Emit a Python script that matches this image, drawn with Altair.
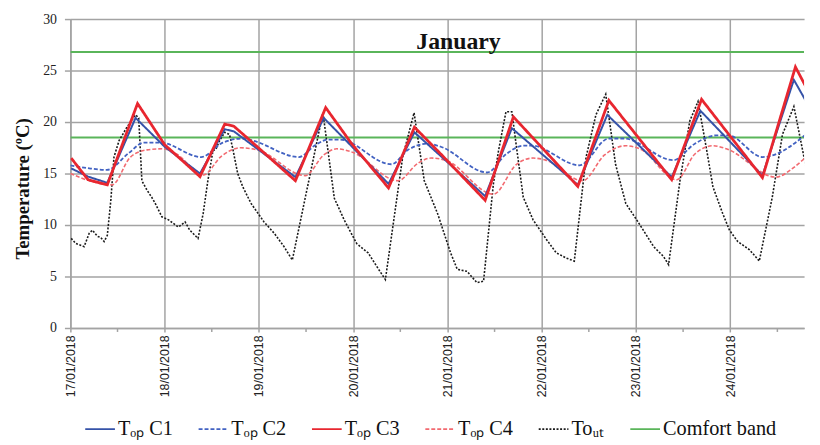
import altair as alt
import pandas as pd

# ---------------- data (hours since 17/01/2018 00:00, °C) ----------------
SERIES = ["Tₒₚ C1", "Tₒₚ C2", "Tₒₚ C3", "Tₒₚ C4", "Toᵤₜ", "Comfort band"]
COLORS = ["#3552a8", "#4262c2", "#e8262f", "#f26a70", "#1a1a1a", "#5ab55a"]
DASHES = [[1, 0], [4, 2], [1, 0], [4, 2], [2, 1.6], [1, 0]]

c1_h = [0.2, 4.5, 9.4, 16.6, 24, 33.0, 39.3, 41.6, 57.3, 64.5, 81.0, 87.6, 105.6, 112.4,
        129.2, 136.7, 153.1, 160.4, 176.2, 184.2, 188.8]
c1_v = [15.5, 14.7, 14.1, 20.4, 17.6, 15.0, 19.3, 19.1, 14.65, 20.4, 14.0, 19.0, 12.8, 19.4,
        13.9, 20.7, 14.65, 21.1, 14.8, 24.1, 21.0]

c2_h = [0, 4.8, 9.3, 14.9, 18.7, 22.9, 33.3, 38.8, 43.9, 46.4, 58.2, 62.5, 65.7, 68.5, 81.7,
        86, 90.9, 94.3, 106.1, 111, 115.3, 117.5, 129.6, 137.1, 140.9, 153.5, 159, 164.4,
        167.5, 176.2, 188.8]
c2_v = [15.8, 15.5, 15.35, 17.0, 18.0, 18.0, 16.6, 18.0, 18.4, 18.2, 16.6, 17.8, 18.3, 18.3,
        15.9, 17.3, 17.9, 17.6, 15.1, 16.9, 17.7, 17.7, 15.8, 18.4, 18.4, 16.3, 17.9, 18.7,
        18.7, 16.6, 19.3]

c3_h = [0.2, 4.5, 9.4, 17.1, 24, 33.0, 39.3, 41.6, 46.4, 57.3, 65.0, 71.6, 81.0, 87.6, 94.3,
        105.6, 112.8, 129.2, 137.1, 153.1, 160.7, 176.2, 184.6, 188.8]
c3_v = [16.5, 14.4, 13.9, 21.8, 17.8, 14.7, 19.8, 19.6, 18.0, 14.3, 21.4, 17.9, 13.6, 19.5,
        16.9, 12.4, 20.5, 13.75, 22.1, 14.4, 22.2, 14.6, 25.35, 22.3]

c4_h = [0, 4.8, 10.6, 15.3, 19.5, 23.5, 27, 33.8, 38.5, 43.4, 47.6, 59.8, 64.5, 67.8, 71.6,
        83.4, 88.5, 91.8, 95.5, 107.7, 113.6, 117.8, 121, 130.4, 136, 141.4, 145, 154.4, 159,
        163.6, 167, 179.6, 184.2, 188.8]
c4_v = [15.0, 14.3, 13.9, 16.6, 17.3, 17.4, 16.9, 14.85, 16.7, 17.5, 17.3, 14.8, 16.8, 17.4,
        17.1, 14.3, 16.0, 16.5, 16.3, 13.0, 15.9, 16.5, 16.3, 14.3, 16.8, 17.7, 17.4, 14.4,
        16.9, 17.7, 17.4, 14.65, 15.6, 17.2]

tout_h = [0.2, 1.4, 3.5, 4.8, 5.6, 6.9, 7.7, 8.6, 9.4, 10.3, 11.1, 12.4, 14.4, 16.6, 17.4,
          18.2, 19.5, 20.7, 21.6, 23.3, 25.0, 27.5, 29.2, 30.4, 32.5,
          33.8, 35.0, 36.3, 37.1, 38.0, 39.3, 40.5, 41.3, 42.6, 43.9, 46.0, 49.3, 51.9, 54.4,
          56.5, 64.3, 67.2, 69.7, 72.9, 75.8, 78.3, 80.2,
          84.6, 87.5, 90.1, 93.5, 96.8, 98.5, 101.0, 103.5, 105.2,
          107.7, 109.0, 110.9, 112.4, 113.6, 115.3, 117.8, 121.2, 123.7, 126.2, 128.3,
          131.3, 133.8, 136.3, 138.8, 141.4, 144.7, 148.5, 151.0, 152.3,
          155.2, 157.7, 159.8, 161.9, 163.6, 166.1, 167.8, 169.9, 172.9, 175.4,
          178.7, 181.3, 184.2, 186.3, 188.8]
tout_v = [8.7, 8.2, 7.9, 9.2, 9.5, 8.9, 8.8, 8.4, 9.0, 12.4, 16.6, 18.2, 19.5, 20.7, 20.4,
          14.3, 13.4, 12.7, 12.1, 10.8, 10.5, 9.8, 10.3, 9.5, 8.7,
          11.1, 14.3, 17.2, 17.4, 18.2, 19.0, 18.8, 17.5, 15.0, 13.7, 12.1, 10.3, 9.2, 7.9,
          6.6, 20.9, 12.6, 10.5, 8.2, 7.3, 5.8, 4.7,
          16.6, 20.9, 14.3, 11.1, 7.3, 5.7, 5.5, 4.4, 4.55,
          14.0, 17.2, 21.0, 21.0, 17.5, 12.7, 10.5, 8.6, 7.3, 6.8, 6.5,
          16.6, 20.7, 22.7, 15.9, 12.1, 10.2, 7.9, 6.95, 6.15,
          14.3, 20.1, 22.0, 17.5, 13.7, 11.1, 9.5, 8.4, 7.6, 6.5,
          12.7, 18.8, 21.5, 17.5, 12.7]

comfort_levels = [18.5, 26.8]
axis_start_h = 0.0
axis_end_h = 186.8
day_ticks = [17, 18, 19, 20, 21, 22, 23, 24]
noon_h = [12, 36, 60, 84, 108, 132, 156, 180]
title_text = ["January"]

# ---------------- build table ----------------
T0 = pd.Timestamp("2018-01-17 00:00:00")


def ts(h):
    return (T0 + pd.Timedelta(hours=h)).strftime("%Y-%m-%dT%H:%M:%S")


rows = []
for name, hs, vs in [(SERIES[0], c1_h, c1_v), (SERIES[1], c2_h, c2_v),
                     (SERIES[2], c3_h, c3_v), (SERIES[3], c4_h, c4_v),
                     (SERIES[4], tout_h, tout_v)]:
    for h, v in zip(hs, vs):
        rows.append({"time": ts(h), "value": v, "series": name, "grp": name})
for lvl in comfort_levels:
    for h in (axis_start_h, axis_end_h):
        rows.append({"time": ts(h), "value": lvl, "series": SERIES[5], "grp": f"cb{lvl}"})
df = pd.DataFrame(rows)

noon_df = pd.DataFrame({"time": [ts(h) for h in noon_h]})
title_df = pd.DataFrame({"label": title_text})

GRID = "#a3a3a3"

d0 = alt.DateTime(year=2018, month=1, date=17, hours=0)
d1 = alt.DateTime(year=2018, month=1, date=24, hours=18, minutes=48)

xaxis = alt.Axis(values=[alt.DateTime(year=2018, month=1, date=d) for d in day_ticks],
                 format="%d/%m/%Y", labelAngle=270, labelFont="Liberation Sans",
                 labelFontSize=12.5, labelColor="#222", labelPadding=3,
                 tickSize=4, tickColor=GRID, tickWidth=1.5,
                 domainColor=GRID, domainWidth=1.5,
                 grid=True, gridColor=GRID, gridWidth=1.5)
yaxis = alt.Axis(values=[0, 5, 10, 15, 20, 25, 30], labelFont="Liberation Serif",
                 labelFontSize=14, labelColor="#222", labelPadding=8,
                 tickSize=6, tickColor=GRID, tickWidth=1.5,
                 domainColor=GRID, domainWidth=1.5,
                 grid=True, gridColor=GRID, gridWidth=1.5,
                 titleFont="Liberation Serif", titleFontSize=19, titleFontWeight="bold",
                 titleColor="#111", titleAngle=270, titleX=-48, titleY=171,
                 titleAlign="center", titleBaseline="middle")

leg = alt.Legend(orient="none", legendX=14, legendY=398, direction="horizontal",
                 columns=6, symbolType="stroke", symbolSize=900, symbolStrokeWidth=1.8,
                 labelFont="Liberation Serif", labelFontSize=20.5,
                 labelColor="#111", columnPadding=21.5, labelOffset=2, padding=0,
                 labelLimit=300, title=None)

base = alt.Chart(df).encode(
    x=alt.X("time:T", scale=alt.Scale(domain=[d0, d1]), axis=xaxis, title=None),
    y=alt.Y("value:Q", scale=alt.Scale(domain=[0, 30]), axis=yaxis,
            title="Temperature (ºC)"),
    color=alt.Color("series:N", scale=alt.Scale(domain=SERIES, range=COLORS), legend=leg),
    strokeDash=alt.StrokeDash("series:N", scale=alt.Scale(domain=SERIES, range=DASHES),
                              legend=leg),
    detail="grp:N",
)

styles = [(SERIES[5], 2.0, "linear"), (SERIES[4], 1.6, "linear"),
          (SERIES[3], 1.6, "monotone"), (SERIES[1], 1.8, "monotone"),
          (SERIES[0], 2.0, "linear"), (SERIES[2], 2.8, "linear")]
layers = [base.transform_filter(alt.datum.series == name)
          .mark_line(strokeWidth=w, interpolate=ip, clip=True)
          for name, w, ip in styles]

minor = alt.Chart(noon_df).mark_rule(color=GRID, strokeWidth=1.5).encode(
    x=alt.X("time:T"), y=alt.value(312), y2=alt.value(316))

title_mark = alt.Chart(title_df).mark_text(
    font="Liberation Serif", fontSize=24, fontWeight="bold", color="#111",
    align="center", baseline="alphabetic").encode(
    text="label:N", x=alt.value(392), y=alt.value(30))

chart = alt.layer(minor, *layers, title_mark).properties(
    width=741, height=312,
    autosize=alt.AutoSizeParams(type="none"),
    padding={"left": 63, "top": 9, "right": 8, "bottom": 116},
    background="white",
).configure_view(strokeWidth=0)

chart.save("out.html", embed_options={"renderer": "svg", "actions": False})
